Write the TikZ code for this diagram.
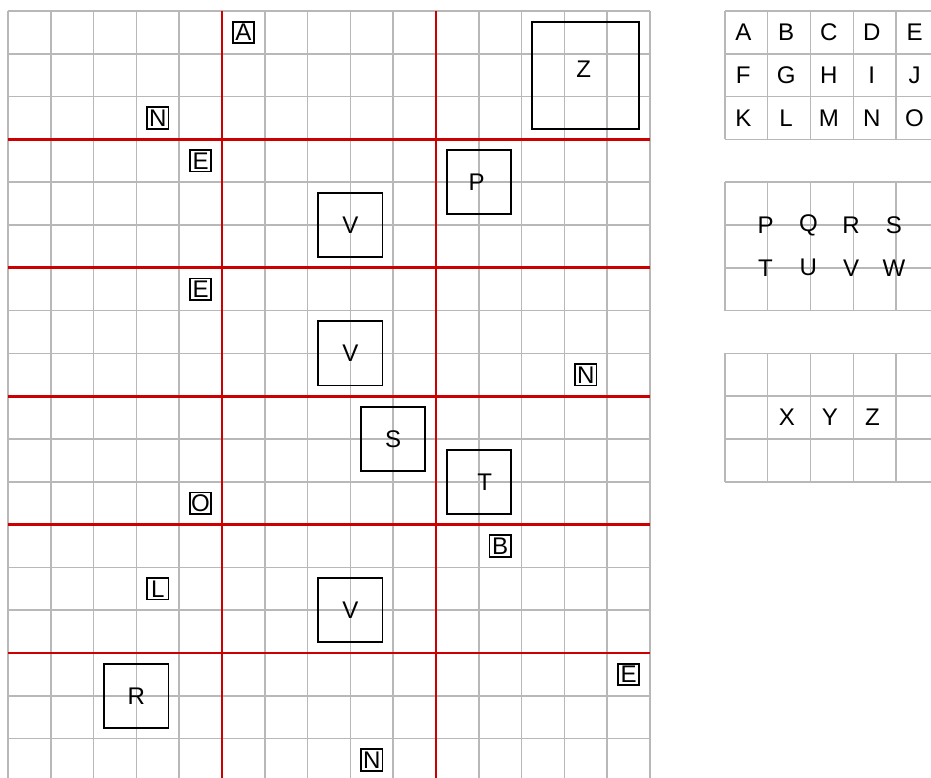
\documentclass[tikz,border=0pt]{standalone}
\usepackage{fontspec}
\setmainfont{Liberation Sans}
\begin{document}
\begin{tikzpicture}[
  gridline/.style={draw=black!28, line width=1pt},
  redline/.style={draw=red!80!black, line width=1.8pt},
  letter/.style={font=\fontsize{16}{19}\selectfont, inner sep=0pt},
  tinybox/.style={letter, draw, line width=1.1pt, minimum size=0.5cm},
  midbox/.style={letter, draw, line width=1.1pt, minimum size=1.5cm},
  bigbox/.style={letter, draw, line width=1.1pt, minimum size=2.5cm}
]
\useasboundingbox (-0.187,0.257) rectangle (21.565,-17.92);
\clip (-0.187,0.257) rectangle (21.565,-17.92);
% board
\draw[gridline] (0,0) grid (15,-18);
\foreach \y in {-3,-6,...,-15}
  \draw[redline] (0,\y) -- (15,\y);
\foreach \x in {5,10}
  \draw[redline] (\x,0) -- (\x,-18);
% side panels
\foreach \top in {0,-4,-8}{
  \begin{scope}[shift={(16.75,\top)}]
    \draw[gridline] (0,0) grid (5,-3);
  \end{scope}
}
% pieces on the board
\node[tinybox] (a1) at (5.5,-0.5) {A};
\node[tinybox] (n1) at (3.5,-2.5) {N};
\node[tinybox] (e1) at (4.5,-3.5) {E};
\node[bigbox] (z1) at (13.5,-1.5) {\raisebox{0.3cm}{Z}\hspace*{0.1cm}};
\node[midbox] (p1) at (11,-4) {P\hspace*{0.1cm}};
\node[midbox] (v1) at (8,-5) {V};
\node[tinybox] (e2) at (4.5,-6.5) {E};
\node[midbox] (v2) at (8,-8) {V};
\node[tinybox] (n2) at (13.5,-8.5) {N};
\node[midbox] (s1) at (9,-10) {S};
\node[midbox] (t1) at (11,-11) {\hspace*{0.28cm}T};
\node[tinybox] (o1) at (4.5,-11.5) {O};
\node[tinybox] (b1) at (11.5,-12.5) {B};
\node[tinybox] (l1) at (3.5,-13.5) {L};
\node[midbox] (v3) at (8,-14) {V};
\node[midbox] (r1) at (3,-16) {R};
\node[tinybox] (e3) at (14.5,-15.5) {E};
\node[tinybox] (n3) at (8.5,-17.5) {N};
% letters in the side panels
\foreach \ch [count=\i from 0] in {A,B,C,D,E,F,G,H,I,J,K,L,M,N,O}{
  \pgfmathsetmacro{\cx}{16.68+mod(\i,5)+0.5}
  \pgfmathsetmacro{\cy}{-floor(\i/5)-0.5}
  \node[letter] (key\ch) at (\cx,\cy) {\ch};
}
\foreach \ch [count=\i from 0] in {P,Q,R,S,T,U,V,W}{
  \pgfmathsetmacro{\cx}{17.7+mod(\i,4)}
  \pgfmathsetmacro{\cy}{-5-floor(\i/4)}
  \node[letter] (key\ch) at (\cx,\cy) {\ch};
}
\foreach \ch [count=\i from 0] in {X,Y,Z}
  \node[letter] (key\ch) at (18.2+\i,-9.5) {\ch};
\end{tikzpicture}
\end{document}
